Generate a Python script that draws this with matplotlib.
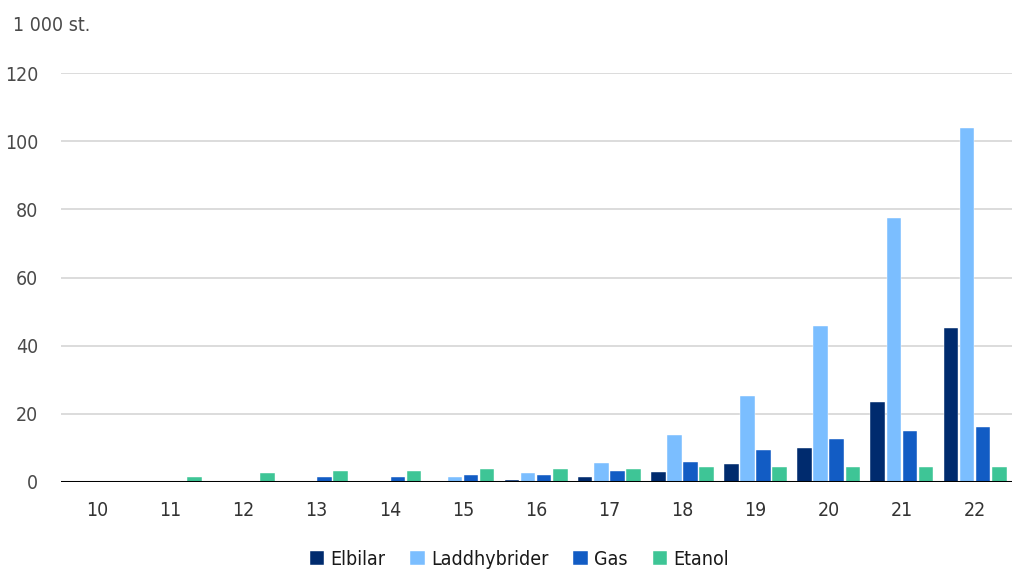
import matplotlib
matplotlib.use("Agg")
import matplotlib.pyplot as plt
import numpy as np

plt.rcParams['font.family'] = ['DejaVu Sans']
plt.rcParams['font.stretch'] = 'condensed'

years = ["10", "11", "12", "13", "14", "15", "16", "17", "18", "19", "20", "21", "22"]
elbilar = [0.3, 0.3, 0.3, 0.3, 0.4, 0.4, 0.5, 1.4, 2.8, 5.2, 10.1, 23.4, 45.2]
laddhybrider = [0.0, 0.1, 0.1, 0.1, 0.2, 1.4, 2.7, 5.7, 13.7, 25.2, 45.7, 77.4, 104.0]
gas = [0.3, 0.4, 0.4, 1.4, 1.4, 2.1, 2.1, 3.3, 5.8, 9.4, 12.5, 14.9, 16.1]
etanol = [0.2, 1.4, 2.7, 3.3, 3.3, 3.9, 3.9, 3.9, 4.4, 4.4, 4.4, 4.4, 4.4]

series = [
    ("Elbilar", elbilar, "#002B6E"),
    ("Laddhybrider", laddhybrider, "#7BBEFF"),
    ("Gas", gas, "#125CC4"),
    ("Etanol", etanol, "#3EC596"),
]

fig = plt.figure(figsize=(10.14, 5.69), dpi=100)
ax = fig.add_axes([0.0597, 0.1529, 0.938, 0.7188])

x = np.arange(len(years))
step = 0.22
width = 0.2
for i, (name, vals, col) in enumerate(series):
    ax.bar(x + (i - 1.5) * step, vals, width, color=col, label=name,
           edgecolor="white", linewidth=0.3, zorder=3)

ax.set_xlim(-0.5, len(years) - 0.5)
ax.set_ylim(0, 120)
ax.set_yticks(range(0, 121, 20))
ax.set_xticks(x)
ax.set_xticklabels(years)
ax.grid(axis="y", color="#D9D9D9", linewidth=1.3, zorder=0)
ax.axhline(0, color="black", linewidth=2.2, zorder=4)
for s in ax.spines.values():
    s.set_visible(False)
ax.tick_params(axis="both", length=0, labelsize=14, colors="#4a4a4a")
ax.tick_params(axis="x", pad=14, colors="#333333")
ax.tick_params(axis="y", pad=16)

fig.text(0.013, 0.955, "1 000 st.", fontsize=14, color="#4a4a4a", va="center")

leg = fig.legend(loc="lower center", ncol=4, bbox_to_anchor=(0.512, -0.03),
                 frameon=False, fontsize=14, handlelength=0.75, handleheight=0.75,
                 handletextpad=0.3, columnspacing=1.3)
for t in leg.get_texts():
    t.set_color("#1a1a1a")

fig.savefig("out.png", dpi=100)
